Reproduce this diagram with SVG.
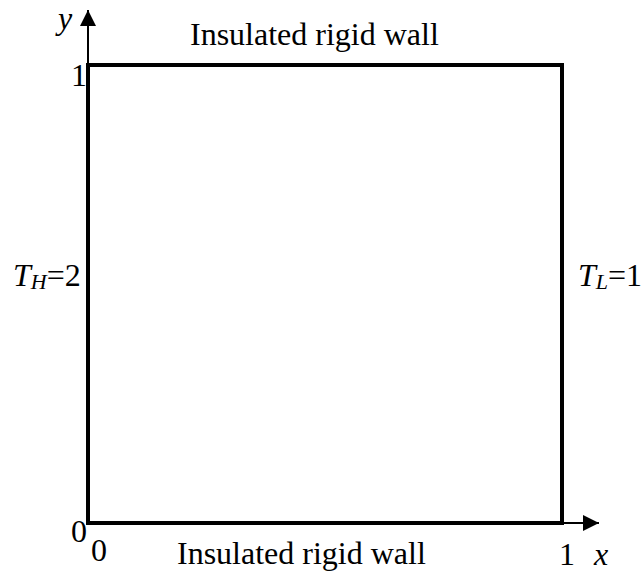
<svg xmlns="http://www.w3.org/2000/svg" width="642" height="573" viewBox="0 0 642 573">
<style>
text{font-family:"Liberation Serif","Times New Roman",serif;font-size:32px;fill:#000}
.i{font-style:italic}
.sub{font-size:22px;font-style:italic}
.ax{stroke:#000;stroke-width:2;fill:none}
</style>
<defs>
<marker id="ah" viewBox="0 0 16 16" refX="16" refY="8" markerWidth="16" markerHeight="16" markerUnits="userSpaceOnUse" orient="auto">
<path d="M0,0 L16,8 L0,16 Z" fill="#000"/>
</marker>
</defs>
<g id="connectors">
<line class="ax" x1="88" y1="523" x2="88" y2="10" marker-end="url(#ah)"/>
<line class="ax" x1="88" y1="523" x2="599" y2="523" marker-end="url(#ah)"/>
</g>
<g id="box">
<rect x="88" y="65" width="474" height="458" fill="none" stroke="#000" stroke-width="4"/>
</g>
<g id="labels">
<text class="i" x="58" y="29">y</text>
<text x="190" y="45">Insulated rigid wall</text>
<text x="71" y="86">1</text>
<text x="13" y="286"><tspan class="i">T</tspan><tspan class="sub" dy="3">H</tspan><tspan dy="-3">=2</tspan></text>
<text x="578" y="286"><tspan class="i">T</tspan><tspan class="sub" dy="3">L</tspan><tspan dy="-3">=1</tspan></text>
<text x="71" y="542">0</text>
<text x="91" y="561">0</text>
<text x="177" y="564">Insulated rigid wall</text>
<text x="559" y="565">1</text>
<text class="i" x="594" y="565">x</text>
</g>
</svg>
